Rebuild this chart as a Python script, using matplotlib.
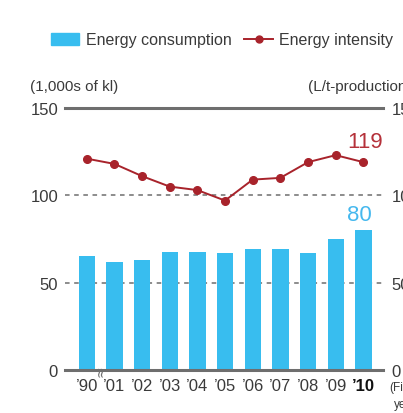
import numpy as np
import matplotlib
matplotlib.use("Agg")
import matplotlib.pyplot as plt
from matplotlib.patches import Patch
from matplotlib.lines import Line2D

plt.rcParams['font.family'] = ['Liberation Sans', 'DejaVu Sans']

years = ["’90", "’01", "’02", "’03", "’04", "’05", "’06", "’07", "’08", "’09", "’10"]
consumption = [65, 62, 63, 67.5, 67.5, 67, 69, 69, 67, 75, 80]
intensity = [121, 118, 111, 105, 103, 97, 109, 110, 119, 123, 119]
yticks = [0, 50, 100, 150]

bar_color = "#38BDEF"
line_color = "#A8232B"
grid_color = "#6E6E6E"
text_color = "#3A3A3A"

fig = plt.figure(figsize=(4.03, 4.14), dpi=100)
ax = fig.add_axes([65 / 403, 43 / 414, 318 / 403, 262 / 414])

x = np.arange(len(years))
ax.bar(x, consumption, width=0.59, color=bar_color, zorder=2)
ax.set_xlim(-0.785, 10.71)
ax.set_ylim(0, 150)

# grid lines
ax.axhline(150, color=grid_color, lw=2.2, clip_on=False, zorder=1)
ax.axhline(0, color=grid_color, lw=2.2, clip_on=False, zorder=3)
for v in (50, 100):
    ax.axhline(v, color=grid_color, lw=1.1, ls=(0, (3, 3)), zorder=1)

for s in ax.spines.values():
    s.set_visible(False)
ax.tick_params(length=0)
ax.set_yticks(yticks)
ax.set_yticklabels([str(v) for v in yticks], fontsize=12, color=text_color)
ax.tick_params(axis='y', pad=5)
ax.set_xticks(x)
ax.set_xticklabels(years, fontsize=12, color=text_color)
ax.tick_params(axis='x', pad=6)
ax.get_xticklabels()[-1].set_fontweight('bold')
ax.get_xticklabels()[-1].set_color('#111111')

ax2 = ax.twinx()
ax2.set_ylim(0, 150)
ax2.set_xlim(-0.785, 10.71)
for s in ax2.spines.values():
    s.set_visible(False)
ax2.tick_params(length=0, pad=6)
ax2.set_yticks(yticks)
ax2.set_yticklabels([str(v) for v in yticks], fontsize=12, color=text_color)
ax2.plot(x, intensity, color=line_color, lw=1.4, marker='o', markersize=5.5, zorder=4)

# value labels
ax2.text(x[-1] + 0.05, intensity[-1] + 6, str(intensity[-1]), color="#B5313A",
         fontsize=16, ha='center', va='bottom')
ax.text(x[-1] - 0.15, consumption[-1] + 3, str(consumption[-1]), color="#45B8EE",
        fontsize=16, ha='center', va='bottom')

# axis break mark
ax.text(0.5, 0, "≈", fontsize=10, ha='center', va='center', rotation=90,
        rotation_mode='anchor', color=grid_color, family=['DejaVu Sans'],
        zorder=5, clip_on=False)

fig.text(30 / 403, 1 - 87 / 414, "(1,000s of kl)", fontsize=11, color=text_color, va='center')
fig.text(308 / 403, 1 - 87 / 414, "(L/t-production)", fontsize=11, color=text_color, va='center')
fig.text(389 / 403, 1 - 388 / 414, "(Fiscal", fontsize=8.5, color=text_color, va='center')
fig.text(394 / 403, 1 - 405 / 414, "year)", fontsize=8.5, color=text_color, va='center')

handles = [Patch(color=bar_color, label="Energy consumption"),
           Line2D([], [], color=line_color, lw=1.4, marker='o', markersize=5, label="Energy intensity")]
fig.legend(handles=handles, loc='center', bbox_to_anchor=(222 / 403, 1 - 41 / 414), ncol=2,
           frameon=False, fontsize=11.5, handlelength=1.8, handleheight=0.8,
           handletextpad=0.4, columnspacing=0.8, labelcolor=text_color)

fig.savefig("out.png", dpi=100)
